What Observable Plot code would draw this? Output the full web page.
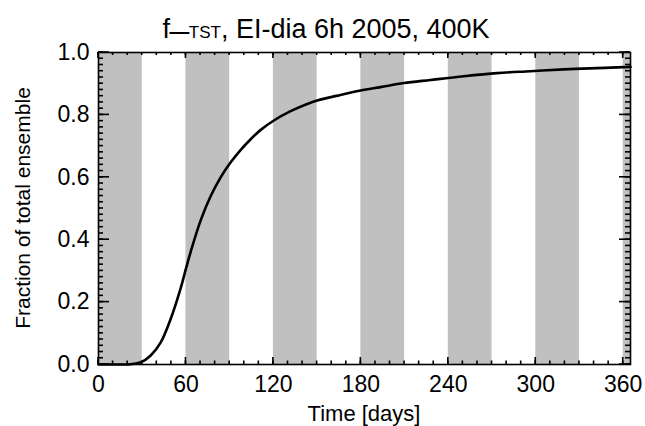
<!DOCTYPE html>
<html>
<head>
<meta charset="utf-8">
<script src="https://cdn.jsdelivr.net/npm/d3@7"></script>
<script src="https://cdn.jsdelivr.net/npm/@observablehq/plot@0.6"></script>
<style>
  html, body { margin: 0; padding: 0; background: #fff; }
  svg { font-family: "Liberation Sans", Arial, Helvetica, sans-serif; overflow: visible; }
</style>
</head>
<body>
<div id="chart"></div>
<script>
// Curve (days -> fraction of total ensemble)
const days = [0, 15, 22, 29, 35.8, 42.7, 49.5, 56.4, 60, 63.3, 70.1, 77, 83.8, 90.7, 97.6, 104.4, 111.3, 120.3, 131.8, 143.2, 150, 166, 179.8, 193.5, 209.5, 227.8, 250.6, 273.5, 296.3, 319.1, 342, 360.3, 365];
const fraction = [0, 0, 0.001, 0.007, 0.029, 0.071, 0.146, 0.245, 0.307, 0.362, 0.462, 0.540, 0.600, 0.648, 0.688, 0.722, 0.752, 0.782, 0.812, 0.835, 0.846, 0.864, 0.878, 0.889, 0.902, 0.912, 0.924, 0.934, 0.940, 0.946, 0.950, 0.953, 0.954];

// Shaded periods
const bandStart = [0, 60, 120, 180, 240, 300, 360];
const bandEnd = [30, 90, 150, 210, 270, 330, 365];

// Ticks
const xDomain = [0, 365];
const yDomain = [0, 1];
const xMajor = [0, 60, 120, 180, 240, 300, 360];
const xTickLabels = ["0", "60", "120", "180", "240", "300", "360"];
const xMinor = [0,10,20,30,40,50,60,70,80,90,100,110,120,130,140,150,160,170,180,190,200,210,220,230,240,250,260,270,280,290,300,310,320,330,340,350,360];
const yMajor = [0, 0.2, 0.4, 0.6, 0.8, 1.0];
const yTickLabels = ["0.0", "0.2", "0.4", "0.6", "0.8", "1.0"];
const yMinor = [0,0.02,0.04,0.06,0.08,0.1,0.12,0.14,0.16,0.18,0.2,0.22,0.24,0.26,0.28,0.3,0.32,0.34,0.36,0.38,0.4,0.42,0.44,0.46,0.48,0.5,0.52,0.54,0.56,0.58,0.6,0.62,0.64,0.66,0.68,0.7,0.72,0.74,0.76,0.78,0.8,0.82,0.84,0.86,0.88,0.9,0.92,0.94,0.96,0.98,1];

const titleMain = "f";
const titleSub = "_TST";
const titleRest = ", EI-dia 6h 2005, 400K";
const xTitle = "Time [days]";
const yTitle = "Fraction of total ensemble";

const curve = days.map((d, i) => ({day: d, value: fraction[i]}));
const bands = bandStart.map((s, i) => ({start: s, end: bandEnd[i]}));

const fs = 23;
const chart = Plot.plot({
  width: 645,
  height: 426,
  marginLeft: 98,
  marginRight: 15,
  marginTop: 52,
  marginBottom: 62,
  x: {domain: xDomain},
  y: {domain: yDomain},
  marks: [
    Plot.rect(bands, {x1: "start", x2: "end", y1: 0, y2: 1, fill: "#c0c0c0"}),
    Plot.line(curve, {x: "day", y: "value", stroke: "black", strokeWidth: 2.6, curve: "catmull-rom"}),
    Plot.axisX(xMajor, {anchor: "bottom", label: null, tickSize: 0, tickPadding: 11, fontSize: fs, fill: "black",
      tickFormat: d => xTickLabels[xMajor.indexOf(d)]}),
    Plot.axisY(yMajor, {anchor: "left", label: null, tickSize: 0, tickPadding: 9, fontSize: fs, fill: "black",
      tickFormat: d => yTickLabels[yMajor.indexOf(d)]}),
    Plot.frame({stroke: "black", strokeWidth: 1.6})
  ]
});

// inward ticks on all four sides, positioned with Plot's own scales
const sx = chart.scale("x"), sy = chart.scale("y");
const X = v => sx.apply(v), Y = v => sy.apply(v);
const x0 = X(xDomain[0]), x1 = X(xDomain[1]);
const y0 = Y(yDomain[0]), y1 = Y(yDomain[1]);
const svg = d3.select(chart);
const g = svg.append("g").attr("stroke", "black").attr("stroke-width", 1.6);
function vTicks(vals, len) {
  vals.forEach(v => {
    g.append("line").attr("x1", X(v)).attr("x2", X(v)).attr("y1", y0).attr("y2", y0 - len);
    g.append("line").attr("x1", X(v)).attr("x2", X(v)).attr("y1", y1).attr("y2", y1 + len * 0.85);
  });
}
function hTicks(vals, len) {
  vals.forEach(v => {
    g.append("line").attr("y1", Y(v)).attr("y2", Y(v)).attr("x1", x0).attr("x2", x0 + len);
    g.append("line").attr("y1", Y(v)).attr("y2", Y(v)).attr("x1", x1).attr("x2", x1 - len);
  });
}
vTicks(xMajor, 7);
vTicks(xMinor, 3.5);
hTicks(yMajor, 11);
hTicks(yMinor, 5);

const t = svg.append("text")
  .attr("x", 326).attr("y", 38)
  .attr("text-anchor", "middle")
  .attr("font-size", 27)
  .attr("fill", "black");
t.append("tspan").text(titleMain);
t.append("tspan").attr("font-size", 34).attr("dy", -11).text(titleSub.slice(0, 1));
t.append("tspan").attr("font-size", 17).attr("dy", 11).text(titleSub.slice(1));
t.append("tspan").text(titleRest);

svg.append("text")
  .attr("x", (x0 + x1) / 2).attr("y", 421)
  .attr("text-anchor", "middle")
  .attr("font-size", 22)
  .attr("fill", "black")
  .text(xTitle);

svg.append("text")
  .attr("transform", `translate(30,${(y0 + y1) / 2}) rotate(-90)`)
  .attr("text-anchor", "middle")
  .attr("font-size", 21)
  .attr("fill", "black")
  .text(yTitle);

document.getElementById("chart").appendChild(chart);
</script>
</body>
</html>
